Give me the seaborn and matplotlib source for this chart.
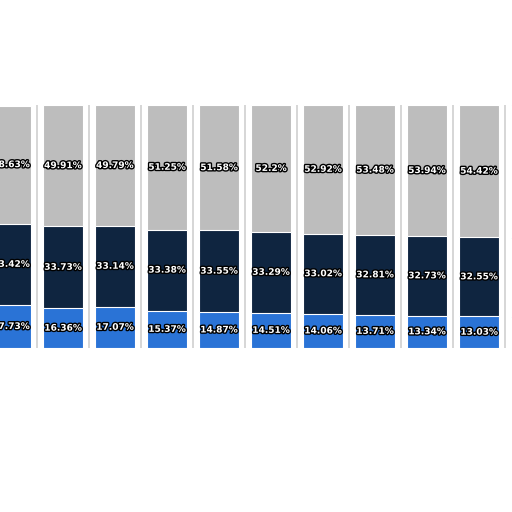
import matplotlib
matplotlib.use("Agg")
import matplotlib.pyplot as plt
import matplotlib.patheffects as pe
import seaborn as sns
import numpy as np
import pandas as pd

cats = [f"P{i}" for i in range(11)]
bottom_vals = [17.73, 16.36, 17.07, 15.37, 14.87, 14.51, 14.06, 13.71, 13.34, 13.03, 12.7]
mid_vals = [33.42, 33.73, 33.14, 33.38, 33.55, 33.29, 33.02, 32.81, 32.73, 32.55, 32.4]
top_vals = [48.63, 49.91, 49.79, 51.25, 51.58, 52.2, 52.92, 53.48, 53.94, 54.42, 54.9]

sns.set_theme(style="white")
fig = plt.figure(figsize=(5.12, 5.12), dpi=100)
ax = fig.add_axes([0, 0.3203, 1, 0.4746])

df = pd.DataFrame({"cat": cats, "b": bottom_vals, "m": mid_vals, "t": top_vals})
tot = np.array(bottom_vals) + np.array(mid_vals) + np.array(top_vals)
df["bm"] = df["b"] + df["m"]
df["all"] = tot
w = 40 / 52
sns.barplot(data=df, x="cat", y="all", color="#bdbdbd", width=w, saturation=1, ax=ax)
sns.barplot(data=df, x="cat", y="bm", color="#0f2540", width=w, saturation=1, ax=ax)
sns.barplot(data=df, x="cat", y="b", color="#2a73d6", width=w, saturation=1, ax=ax)
for p in ax.patches:
    p.set_edgecolor("white"); p.set_linewidth(0.8)

eff = [pe.withStroke(linewidth=2, foreground="black")]
def fmt(v):
    return f"{v:g}%"
for i in range(len(cats)):
    b, m, t = bottom_vals[i], mid_vals[i], top_vals[i]
    for y, v in [(b / 2, b), (b + m / 2, m), (b + m + t / 2, t)]:
        ax.text(i, y, fmt(v), ha="center", va="center", color="white",
                fontsize=6.5, fontweight="bold", path_effects=eff)

for i in range(len(cats)):
    ax.axvline(i + 0.5, color="#d0d0d0", lw=1.2)
ax.set_xlim(-11 / 52, 501 / 52)
ax.set_ylim(0, 100)
ax.axis("off")
fig.savefig("out.png", dpi=100)
